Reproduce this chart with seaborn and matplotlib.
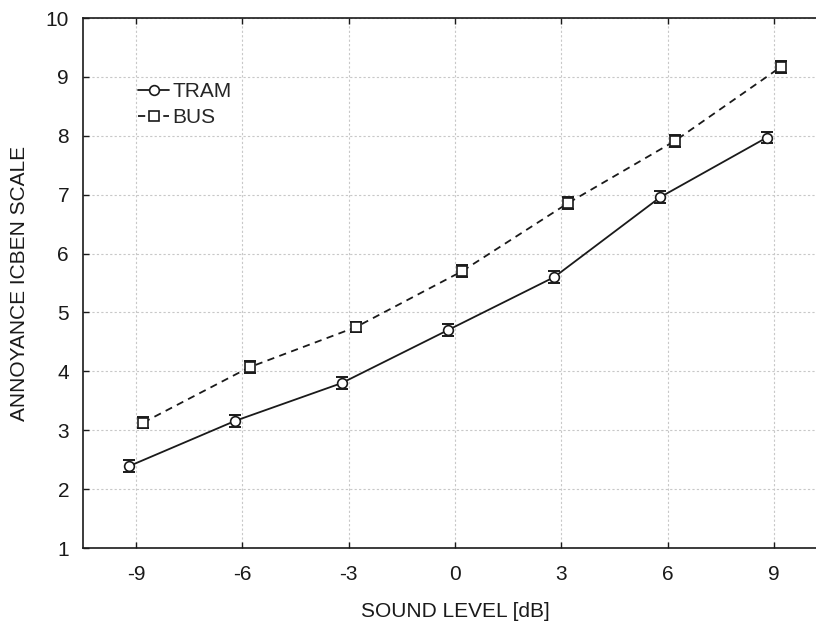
import matplotlib
matplotlib.use("Agg")
import matplotlib.pyplot as plt
import numpy as np
import pandas as pd
import seaborn as sns

levels = [-9, -6, -3, 0, 3, 6, 9]
tram = [2.39, 3.16, 3.80, 4.70, 5.60, 6.96, 7.97]
tram_err = [0.10, 0.10, 0.10, 0.10, 0.10, 0.10, 0.10]
bus = [3.13, 4.07, 4.75, 5.70, 6.86, 7.91, 9.17]
bus_err = [0.10, 0.10, 0.09, 0.10, 0.10, 0.10, 0.10]
shift = 0.2

sns.set_style("white")
plt.rcParams['font.family'] = ['Liberation Sans', 'DejaVu Sans']

fig = plt.figure(figsize=(8.16, 6.24), dpi=100)
ax = fig.add_axes([83 / 816, 76 / 624, 744 / 816, 530 / 624])

df = pd.DataFrame({
    "x": np.concatenate([np.array(levels) - shift, np.array(levels) + shift]),
    "y": tram + bus,
    "err": tram_err + bus_err,
    "src": ["TRAM"] * 7 + ["BUS"] * 7,
})

styles = {"TRAM": ("o", "-"), "BUS": ("s", (0, (4, 3)))}
for name, grp in df.groupby("src", sort=False):
    m, ls = styles[name]
    ax.errorbar(grp["x"], grp["y"], yerr=grp["err"], fmt="none",
                ecolor="#1a1a1a", elinewidth=1.2, capsize=4.5, capthick=1.4, zorder=2)
    sns.lineplot(data=grp, x="x", y="y", ax=ax, color="#1a1a1a", linewidth=1.3,
                 linestyle=ls, marker=m, markersize=7 if m == "o" else 6.5,
                 markerfacecolor="white", markeredgecolor="#1a1a1a",
                 markeredgewidth=1.2, label=name, zorder=3)

ax.set_xlim(-10.5, 10.5)
ax.set_ylim(1, 10)
ax.set_xticks(levels)
ax.set_xticklabels([str(v) for v in levels])
ax.set_yticks(range(1, 11))
ax.tick_params(direction="in", length=4, width=1, labelsize=15, colors="#1a1a1a",
               top=True, bottom=True, left=True, right=False)
ax.tick_params(axis="x", labeltop=False, pad=12)
ax.tick_params(axis="y", pad=10)
ax.grid(True, linestyle=(0, (2, 2)), color="#c8c8c8", linewidth=0.8)
for s in ["left", "bottom", "top", "right"]:
    ax.spines[s].set_color("#1a1a1a")
    ax.spines[s].set_linewidth(1.2)

ax.set_xlabel("SOUND LEVEL [dB]", fontsize=15, color="#1a1a1a", labelpad=13)
ax.set_ylabel("ANNOYANCE ICBEN SCALE", fontsize=15, color="#1a1a1a", labelpad=12)

leg = ax.legend(loc="upper left", bbox_to_anchor=(0.06, 0.899), frameon=False,
                fontsize=15, handlelength=1.5, handletextpad=0.15, labelspacing=0.35,
                borderpad=0)

fig.savefig("out.png", dpi=100)
